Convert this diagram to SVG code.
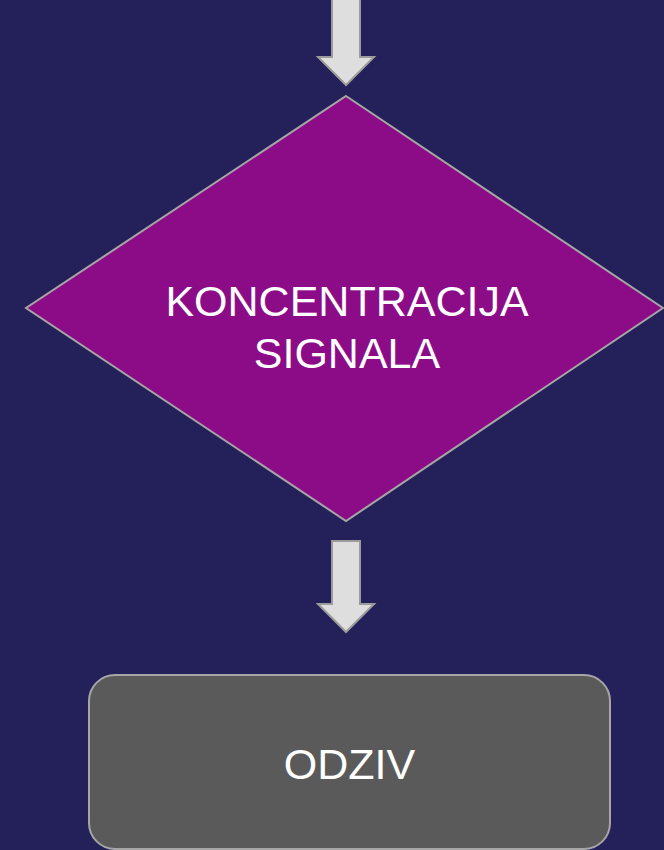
<svg xmlns="http://www.w3.org/2000/svg" width="664" height="850" viewBox="0 0 664 850">
<style>
.arrow{fill:#dedede;stroke:#9b9b9b;stroke-width:2}
.lbl{font-family:"Liberation Sans",Arial,sans-serif;font-size:43px;fill:#ffffff;text-anchor:middle}
</style>
<rect x="0" y="0" width="664" height="850" fill="#23205a"/>
<g id="connectors">
<polygon class="arrow" points="332,-2 360,-2 360,57 374,57 346,85 318,57 332,57"/>
<polygon class="arrow" points="332,541 360,541 360,604 374,604 346,632 318,604 332,604"/>
</g>
<g id="decision">
<polygon points="346,96 663,308 346,521 26,308" fill="#8c0c88" stroke="#a6a6a6" stroke-width="2"/>
<text class="lbl" x="347" y="316">KONCENTRACIJA</text>
<text class="lbl" x="347" y="368">SIGNALA</text>
</g>
<g id="response">
<rect x="89" y="675" width="521" height="174" rx="26" ry="26" fill="#5a5a5a" stroke="#a6a6a6" stroke-width="2"/>
<text class="lbl" x="349.5" y="779">ODZIV</text>
</g>
</svg>
